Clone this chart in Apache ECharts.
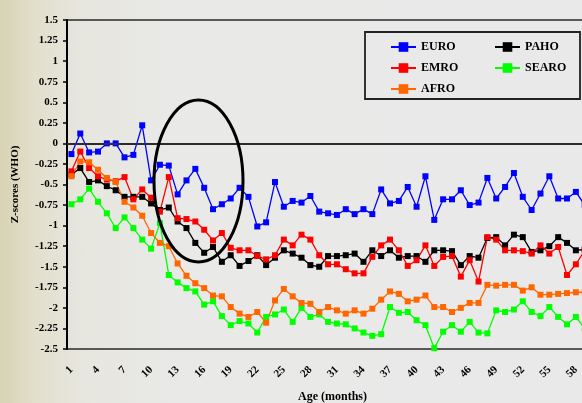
<!DOCTYPE html>
<html>
<head>
<meta charset="utf-8">
<script src="https://cdn.jsdelivr.net/npm/echarts@6/dist/echarts.min.js"></script>
<style>
html,body{margin:0;padding:0;}
body{background:linear-gradient(to right,#d8d3b4 0%,#e2dfcc 6%,#e7e6de 14%,#e9e9e8 30%,#e9e9e9 100%);}
#chart{width:582px;height:403px;}
</style>
</head>
<body>
<div id="chart"></div>
<script>
// Age in months (category axis)
var months = [];
for (var i = 1; i <= 60; i++) months.push(String(i));

var seriesNames = ['EURO', 'PAHO', 'EMRO', 'SEARO', 'AFRO'];

var euro = [-0.13,0.12,-0.11,-0.10,0.00,0.00,-0.17,-0.14,0.22,-0.45,
  -0.26,-0.27,-0.62,-0.45,-0.31,-0.54,-0.80,-0.74,-0.67,-0.54,
  -0.65,-1.01,-0.96,-0.47,-0.77,-0.70,-0.72,-0.64,-0.83,-0.85,
  -0.87,-0.80,-0.86,-0.80,-0.86,-0.56,-0.73,-0.70,-0.53,-0.77,
  -0.40,-0.93,-0.68,-0.68,-0.57,-0.75,-0.72,-0.42,-0.67,-0.53,
  -0.36,-0.65,-0.81,-0.61,-0.40,-0.67,-0.67,-0.59,-0.75,-0.70];

var paho = [-0.38,-0.30,-0.47,-0.45,-0.52,-0.57,-0.65,-0.65,-0.65,-0.73,
  -0.81,-0.78,-0.95,-1.03,-1.21,-1.33,-1.26,-1.44,-1.36,-1.49,
  -1.43,-1.36,-1.48,-1.39,-1.30,-1.34,-1.39,-1.48,-1.50,-1.37,
  -1.37,-1.36,-1.34,-1.44,-1.30,-1.37,-1.30,-1.39,-1.37,-1.37,
  -1.44,-1.30,-1.30,-1.31,-1.48,-1.37,-1.39,-1.15,-1.14,-1.24,
  -1.11,-1.14,-1.32,-1.30,-1.25,-1.14,-1.21,-1.30,-1.29,-1.30];

var emro = [-0.34,-0.10,-0.30,-0.40,-0.44,-0.46,-0.41,-0.68,-0.56,-0.66,
  -0.83,-0.41,-0.91,-0.92,-0.95,-1.05,-1.18,-1.09,-1.27,-1.30,
  -1.30,-1.37,-1.41,-1.36,-1.17,-1.24,-1.11,-1.17,-1.36,-1.47,
  -1.47,-1.53,-1.58,-1.58,-1.38,-1.24,-1.17,-1.30,-1.49,-1.42,
  -1.24,-1.49,-1.38,-1.37,-1.62,-1.42,-1.68,-1.14,-1.17,-1.30,
  -1.30,-1.31,-1.34,-1.24,-1.34,-1.26,-1.60,-1.47,-1.30,-1.35];

var searo = [-0.74,-0.68,-0.55,-0.71,-0.85,-1.03,-0.90,-1.03,-1.17,-1.28,
  -0.97,-1.60,-1.69,-1.76,-1.80,-1.96,-1.92,-2.10,-2.21,-2.16,
  -2.19,-2.30,-2.11,-2.08,-2.02,-2.17,-2.00,-2.11,-2.08,-2.17,
  -2.19,-2.20,-2.25,-2.30,-2.34,-2.32,-1.99,-2.06,-2.05,-2.15,
  -2.21,-2.49,-2.29,-2.21,-2.29,-2.17,-2.30,-2.31,-2.03,-2.05,
  -2.02,-1.92,-2.05,-2.10,-1.99,-2.11,-2.20,-2.11,-2.25,-2.20];

var afro = [-0.40,-0.22,-0.23,-0.32,-0.42,-0.47,-0.71,-0.78,-0.88,-1.09,
  -1.21,-1.25,-1.46,-1.61,-1.70,-1.76,-1.85,-1.86,-1.99,-2.07,
  -2.11,-2.05,-2.18,-1.91,-1.77,-1.86,-1.94,-1.95,-2.05,-1.99,
  -2.03,-2.07,-2.03,-2.07,-2.01,-1.90,-1.80,-1.83,-1.92,-1.90,
  -1.85,-1.99,-1.99,-2.05,-2.00,-1.94,-1.94,-1.72,-1.73,-1.72,
  -1.72,-1.79,-1.75,-1.84,-1.84,-1.83,-1.82,-1.81,-1.81,-1.80];

var seriesValues = [euro, paho, emro, searo, afro];
var seriesColors = ['#0000ff', '#000000', '#ff0000', '#00ff00', '#ff6600'];

var FONT = '"Liberation Serif", "DejaVu Serif", serif';

var chart = echarts.init(document.getElementById('chart'), null, {renderer: 'canvas'});

var series = seriesNames.map(function (name, k) {
  var s = {
    name: name,
    type: 'line',
    data: seriesValues[k],
    symbol: 'rect',
    symbolSize: 6,
    showAllSymbol: true,
    color: seriesColors[k],
    lineStyle: {color: seriesColors[k], width: 1.3},
    itemStyle: {color: seriesColors[k]},
    emphasis: {disabled: true},
    animation: false
  };
  if (k === 0) {
    s.markLine = {
      silent: true,
      symbol: 'none',
      label: {show: false},
      lineStyle: {color: '#3a3a3a', width: 1.6, type: 'solid'},
      data: [{yAxis: 0}],
      animation: false
    };
  }
  return s;
});

var legendText = {color: '#000', fontFamily: FONT, fontWeight: 'bold', fontSize: 12};

chart.setOption({
  animation: false,
  backgroundColor: 'transparent',
  grid: {
    left: 67, top: 20, width: 531, height: 329,
    show: true, borderColor: '#2a2a2a', borderWidth: 1.5,
    backgroundColor: 'transparent',
    containLabel: false,
    outerBoundsMode: 'none'
  },
  legend: [{
    data: ['EURO', 'EMRO', 'AFRO'],
    orient: 'vertical',
    left: 385, top: 36,
    itemWidth: 25, itemHeight: 12, itemGap: 9,
    textStyle: legendText,
    selectedMode: false
  }, {
    data: ['PAHO', 'SEARO'],
    orient: 'vertical',
    left: 489, top: 36,
    itemWidth: 25, itemHeight: 12, itemGap: 9,
    textStyle: legendText,
    selectedMode: false
  }],
  xAxis: {
    type: 'category',
    data: months,
    boundaryGap: true,
    name: 'Age (months)',
    nameLocation: 'middle',
    nameGap: 42,
    nameTextStyle: {color: '#000', fontFamily: FONT, fontWeight: 'bold', fontSize: 12},
    axisLine: {lineStyle: {color: '#000', width: 2}},
    axisTick: {show: false},
    axisLabel: {
      interval: 2,
      rotate: 45,
      margin: 19,
      color: '#000',
      fontFamily: FONT,
      fontWeight: 'bold',
      fontSize: 11
    },
    splitLine: {show: false}
  },
  yAxis: {
    type: 'value',
    min: -2.5, max: 1.5, interval: 0.25,
    name: 'Z-scores (WHO)',
    nameLocation: 'middle',
    nameGap: 46,
    nameTextStyle: {color: '#000', fontFamily: FONT, fontWeight: 'bold', fontSize: 11},
    axisLine: {show: true, lineStyle: {color: '#000', width: 2}},
    axisTick: {show: true, inside: false, length: 4, lineStyle: {color: '#000', width: 1.5}},
    axisLabel: {
      margin: 9,
      color: '#000',
      fontFamily: FONT,
      fontWeight: 'bold',
      fontSize: 11
    },
    splitLine: {show: false}
  },
  graphic: [{
    type: 'rect',
    z: 1,
    shape: {x: 365, y: 32, width: 215, height: 67},
    style: {fill: '#e9e9e9', stroke: '#222', lineWidth: 1.8},
    silent: true
  }, {
    type: 'ellipse',
    z: 100,
    shape: {cx: 198.5, cy: 181, rx: 44.5, ry: 81},
    style: {fill: 'none', stroke: '#000', lineWidth: 3},
    silent: true
  }],
  series: series
});
</script>
</body>
</html>
